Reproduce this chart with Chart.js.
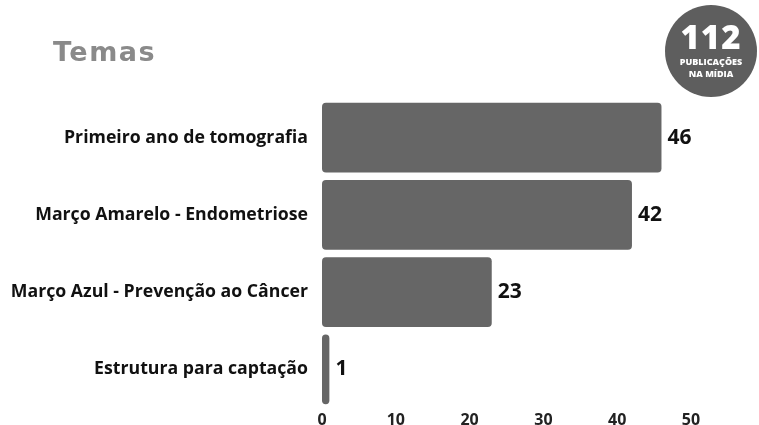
<!DOCTYPE html>
<html>
<head>
<meta charset="utf-8">
<script src="https://cdn.jsdelivr.net/npm/chart.js@4.4.1/dist/chart.umd.min.js"></script>
<style>
  body { margin: 0; background: #fff; font-family: "Open Sans", sans-serif; overflow: hidden; }
  #wrap { position: relative; width: 759px; height: 425px; }
  canvas { display: block; }
  #title { position: absolute; left: 53px; top: 36px; font-family: "DejaVu Sans", sans-serif; font-size: 27px; font-weight: 700; color: #8a8a8a; letter-spacing: 1.5px; }
  #badge { position: absolute; left: 665px; top: 5px; width: 92px; height: 92px; border-radius: 50%; background: #5e5e5e; color: #fff; text-align: center; }
  #badge .num { font-size: 33px; font-weight: 800; line-height: 33px; margin-top: 15px; letter-spacing: 1px; }
  #badge .txt { font-size: 9px; font-weight: 800; line-height: 12px; margin-top: 3px; }
</style>
</head>
<body>
<div id="wrap">
  <canvas id="myChart" width="759" height="425"></canvas>
  <div id="title">Temas</div>
  <div id="badge"><div class="num">112</div><div class="txt">PUBLICAÇÕES<br>NA MÍDIA</div></div>
</div>
<script>
const temas = ['Primeiro ano de tomografia', 'Março Amarelo - Endometriose', 'Março Azul - Prevenção ao Câncer', 'Estrutura para captação'];
const publicacoes = [46, 42, 23, 1];
const xTicks = [0, 10, 20, 30, 40, 50];

// numbers next to each bar
const valueLabels = {
    id: 'valueLabels',
    afterDatasetsDraw(chart) {
        const ctx = chart.ctx;
        const meta = chart.getDatasetMeta(0);
        ctx.save();
        ctx.font = 'bold 21px "Open Sans"';
        ctx.fillStyle = '#111';
        ctx.textBaseline = 'middle';
        meta.data.forEach((bar, i) => {
            ctx.fillText(String(publicacoes[i]), bar.x + 6, bar.y);
        });
        ctx.restore();
    }
};

const ctx = document.getElementById('myChart').getContext('2d');
const myChart = new Chart(ctx, {
    type: 'bar',
    data: {
        labels: temas,
        datasets: [{
            data: publicacoes,
            backgroundColor: '#666666',
            borderRadius: 4,
            borderSkipped: false,
            barPercentage: 0.9,
            categoryPercentage: 1
        }]
    },
    options: {
        indexAxis: 'y',
        responsive: false,
        animation: false,
        layout: { padding: { top: 99, right: 68, left: 0, bottom: 0 } },
        plugins: {
            legend: { display: false },
            tooltip: { enabled: false }
        },
        scales: {
            x: {
                min: 0,
                max: 50,
                grid: { display: false },
                border: { display: false },
                afterBuildTicks: axis => { axis.ticks = xTicks.map(v => ({ value: v })); },
                afterFit: axis => { axis.height = 17; },
                ticks: { color: '#222', font: { family: 'Open Sans', size: 16, weight: 'bold' }, padding: -5 }
            },
            y: {
                grid: { display: false },
                border: { display: false },
                afterFit: axis => { axis.width = 322; },
                ticks: { color: '#111', font: { family: 'Open Sans', size: 17.7, weight: 'bold' }, padding: 6 }
            }
        }
    },
    plugins: [valueLabels]
});
</script>
</body>
</html>
